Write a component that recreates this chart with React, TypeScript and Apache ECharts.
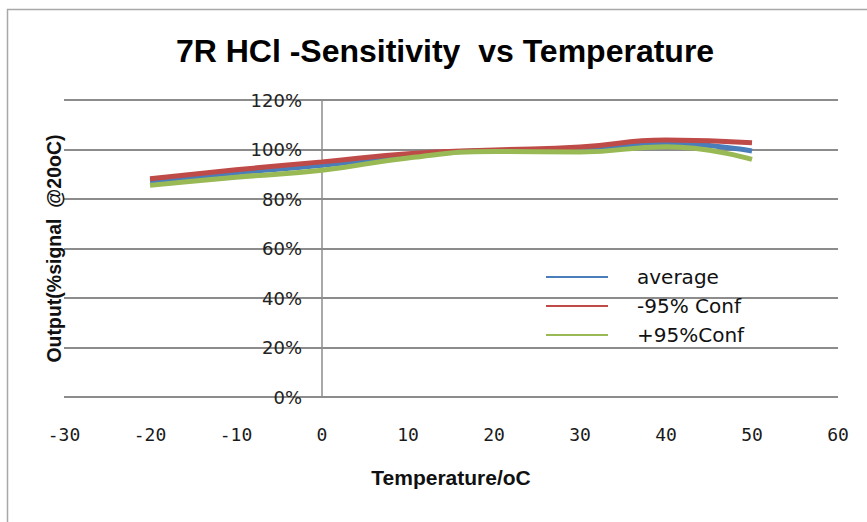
import React, { useEffect, useRef } from 'react';
import * as echarts from 'echarts';

const titleText = '7R HCl -Sensitivity  vs Temperature';
const xAxisName = 'Temperature/oC';
const yAxisName = 'Output(%signal  @20oC)';

const xTicks = [-30, -20, -10, 0, 10, 20, 30, 40, 50, 60];
const yTicks = [0, 20, 40, 60, 80, 100, 120];

const temperatures = [-20, -10, 0, 10, 20, 30, 40, 50];
const averageValues = [87.3, 90.6, 93.6, 97.6, 99.6, 100.0, 102.4, 99.4];
const minus95Values = [88.2, 91.8, 95.0, 98.3, 99.8, 101.0, 103.8, 102.7];
const plus95Values = [85.5, 88.8, 91.6, 96.6, 99.2, 99.0, 101.1, 96.0];

const seriesNames = ['average', '-95% Conf', '+95%Conf'];
const seriesColors = ['#4a7ebb', '#be4b48', '#98b954'];

export default function App() {
  const ref = useRef<HTMLDivElement>(null);

  useEffect(() => {
    if (!ref.current) return;
    const chart = echarts.init(ref.current, undefined, { renderer: 'svg' });
    const valuesList = [averageValues, minus95Values, plus95Values];

    const gridLeft = 64;
    const gridRight = 838;
    const zeroX = gridLeft + ((0 - xTicks[0]) / (xTicks[xTicks.length - 1] - xTicks[0])) * (gridRight - gridLeft);

    chart.setOption({
      animation: false,
      backgroundColor: '#ffffff',
      title: {
        text: titleText,
        left: 440,
        top: 30,
        textAlign: 'center',
        textStyle: {
          fontFamily: 'Liberation Sans',
          fontWeight: 'bold',
          fontSize: 32,
          color: '#000000',
        },
      },
      graphic: [
        {
          type: 'rect',
          shape: { x: 7.5, y: 9.5, width: 1000, height: 1000 },
          style: { fill: 'none', stroke: '#a8a8a8', lineWidth: 1.5 },
          silent: true,
          z: -1,
        },
      ],
      legend: {
        orient: 'vertical',
        left: 541,
        top: 262,
        itemGap: 9,
        icon: 'rect',
        itemWidth: 62,
        itemHeight: 2,
        data: seriesNames,
        textStyle: {
          fontFamily: 'DejaVu Sans',
          fontSize: 20,
          color: '#111111',
          padding: [0, 0, 0, 24],
        },
      },
      grid: {
        left: gridLeft,
        right: 867 - gridRight,
        top: 100,
        bottom: 522 - 397,
        containLabel: false,
        outerBoundsMode: 'none',
      },
      xAxis: {
        type: 'value',
        min: xTicks[0],
        max: xTicks[xTicks.length - 1],
        interval: xTicks[1] - xTicks[0],
        name: xAxisName,
        nameLocation: 'middle',
        nameGap: 70,
        nameTextStyle: {
          fontFamily: 'Liberation Sans',
          fontWeight: 'bold',
          fontSize: 21,
          color: '#111111',
        },
        axisLine: { show: false },
        axisTick: { show: false },
        splitLine: { show: false },
        axisLabel: {
          margin: 28,
          fontFamily: 'DejaVu Sans Mono',
          fontSize: 18,
          color: '#1a1a1a',
        },
      },
      yAxis: {
        type: 'value',
        min: yTicks[0],
        max: yTicks[yTicks.length - 1],
        interval: yTicks[1] - yTicks[0],
        offset: -(zeroX - gridLeft),
        name: yAxisName,
        nameLocation: 'middle',
        nameRotate: 90,
        nameGap: zeroX - 64,
        nameTextStyle: {
          fontFamily: 'Liberation Sans',
          fontWeight: 'bold',
          fontSize: 19.5,
          color: '#111111',
        },
        axisLine: {
          show: true,
          onZero: false,
          lineStyle: { color: '#8c8c8c', width: 1.5 },
        },
        axisTick: { show: false },
        splitLine: {
          show: true,
          lineStyle: { color: '#8c8c8c', width: 1.8 },
        },
        axisLabel: {
          margin: 20,
          fontFamily: 'DejaVu Sans',
          fontSize: 18,
          color: '#222222',
          padding: [5, 0, 0, 0],
          formatter: '{value}%',
        },
      },
      series: valuesList.map((vals, i) => ({
        name: seriesNames[i],
        type: 'line',
        smooth: true,
        symbol: 'none',
        showSymbol: false,
        data: temperatures.map((t, j) => [t, vals[j]]),
        lineStyle: { color: seriesColors[i], width: 5 },
        itemStyle: { color: seriesColors[i] },
      })),
    });

    return () => {
      chart.dispose();
    };
  }, []);

  return (
    <div
      ref={ref}
      style={{ position: 'absolute', left: 0, top: 0, width: 867, height: 522 }}
    />
  );
}
